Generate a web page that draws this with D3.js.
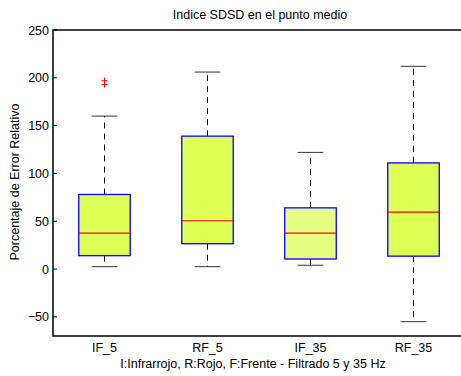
<!DOCTYPE html>
<html>
<head>
<meta charset="utf-8">
<script src="https://cdn.jsdelivr.net/npm/d3@7"></script>
<style>
  body { margin: 0; background: #fff; }
  svg { display: block; font-family: "Liberation Sans", Arial, sans-serif; }
</style>
</head>
<body>
<svg id="chart" width="461" height="376"></svg>
<script>
// Box-plot summaries per group
const categories = ["IF_5", "RF_5", "IF_35", "RF_35"];
const whiskerLow = [2.5, 2.5, 4, -55];
const q1 = [14, 26.5, 10.5, 13.5];
const median = [37.5, 50.5, 37.5, 59.5];
const q3 = [78, 139, 64, 111];
const whiskerHigh = [160, 206, 122, 212];
const outliers = [[197, 193], [], [], []];
const fills = ["#deff55", "#deff55", "#e6ff80", "#deff55"];
const yTicks = [-50, 0, 50, 100, 150, 200, 250];

const svg = d3.select("#chart");
const plotLeft = 53, plotRight = 465, plotTop = 30, plotBottom = 336;
const fontSize = 12.5;

const x = d3.scaleLinear().domain([0.5, 4.5]).range([plotLeft, plotRight]);
const y = d3.scaleLinear().domain([-70, 250]).range([plotBottom, plotTop]);

const boxW = x(1.5) - x(1);      // box width in px
const capW = boxW / 2;

// Plot frame
svg.append("rect")
  .attr("x", plotLeft).attr("y", plotTop)
  .attr("width", plotRight - plotLeft).attr("height", plotBottom - plotTop)
  .attr("fill", "#fff").attr("stroke", "#000").attr("stroke-width", 1.5);

// Inward-pointing ticks on left and right
const g = svg.append("g");
yTicks.forEach(t => {
  g.append("line").attr("x1", plotLeft).attr("x2", plotLeft + 4)
    .attr("y1", y(t)).attr("y2", y(t)).attr("stroke", "#000");
  g.append("line").attr("x1", plotRight - 4).attr("x2", plotRight)
    .attr("y1", y(t)).attr("y2", y(t)).attr("stroke", "#000");
  g.append("text").attr("x", plotLeft - 4).attr("y", y(t) + 4.5)
    .attr("text-anchor", "end").attr("font-size", fontSize).attr("fill", "#000")
    .text(t < 0 ? "\u2212" + Math.abs(t) : t);
});

// Boxes
categories.forEach((c, i) => {
  const cx = x(i + 1);
  const b = svg.append("g");
  // dashed whiskers
  b.append("line").attr("x1", cx).attr("x2", cx)
    .attr("y1", y(q3[i])).attr("y2", y(whiskerHigh[i]))
    .attr("stroke", "#000").attr("stroke-dasharray", "6,5");
  b.append("line").attr("x1", cx).attr("x2", cx)
    .attr("y1", y(q1[i])).attr("y2", y(whiskerLow[i]))
    .attr("stroke", "#000").attr("stroke-dasharray", "6,5");
  // caps
  [whiskerHigh[i], whiskerLow[i]].forEach(v => {
    b.append("line").attr("x1", cx - capW / 2).attr("x2", cx + capW / 2)
      .attr("y1", y(v)).attr("y2", y(v)).attr("stroke", "#333");
  });
  // box
  b.append("rect")
    .attr("x", cx - boxW / 2).attr("y", y(q3[i]))
    .attr("width", boxW).attr("height", y(q1[i]) - y(q3[i]))
    .attr("fill", fills[i]).attr("stroke", "#0000ff").attr("stroke-width", 1.3);
  // median
  b.append("line").attr("x1", cx - boxW / 2).attr("x2", cx + boxW / 2)
    .attr("y1", y(median[i])).attr("y2", y(median[i]))
    .attr("stroke", "#ff0000").attr("stroke-width", 1.2);
  // outliers
  outliers[i].forEach(v => {
    b.append("path")
      .attr("d", `M${cx - 3},${y(v)}H${cx + 3}M${cx},${y(v) - 3}V${y(v) + 3}`)
      .attr("stroke", "#ff0000").attr("fill", "none");
  });
  // category label
  svg.append("text").attr("x", cx).attr("y", 352)
    .attr("text-anchor", "middle").attr("font-size", fontSize).attr("fill", "#000")
    .text(c);
});

// Title and axis labels
svg.append("text").attr("x", 260).attr("y", 19)
  .attr("text-anchor", "middle").attr("font-size", fontSize).attr("fill", "#000")
  .text("Indice SDSD en el punto medio");
svg.append("text").attr("x", 253).attr("y", 368)
  .attr("text-anchor", "middle").attr("font-size", fontSize).attr("fill", "#000")
  .text("I:Infrarrojo, R:Rojo, F:Frente - Filtrado 5 y 35 Hz");
svg.append("text")
  .attr("transform", `translate(19,182) rotate(-90)`)
  .attr("text-anchor", "middle").attr("font-size", fontSize).attr("fill", "#000")
  .text("Porcentaje de Error Relativo");
</script>
</body>
</html>
